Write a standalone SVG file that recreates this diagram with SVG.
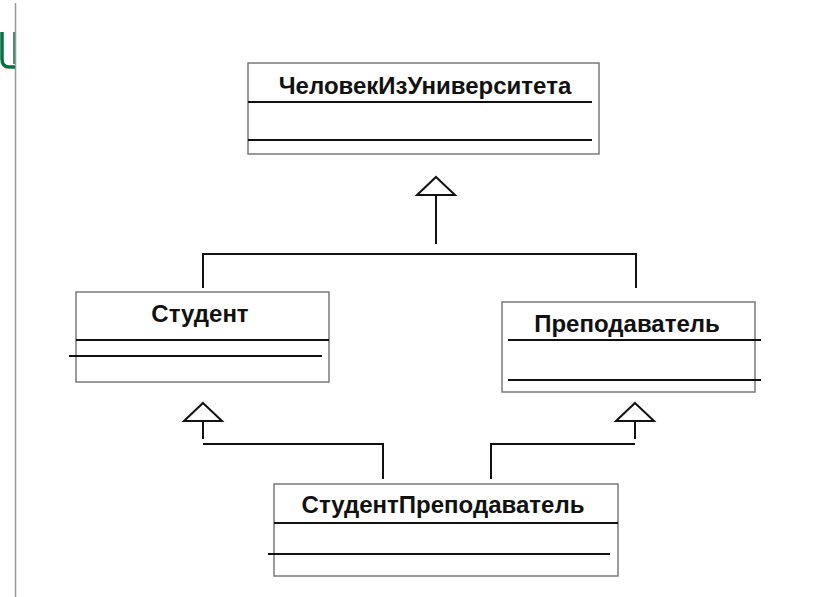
<svg xmlns="http://www.w3.org/2000/svg" width="814" height="597" viewBox="0 0 814 597">
<style>
.box{fill:#fff;stroke:#7a7a7a;stroke-width:1.5}
.sep{stroke:#111;stroke-width:2}
.lbl{font-family:"Liberation Sans",Arial,sans-serif;font-weight:bold;font-size:24px;fill:#111;text-anchor:middle}
.con{fill:none;stroke:#111;stroke-width:2}
.tri{fill:#fff;stroke:#111;stroke-width:2;stroke-linejoin:miter}
</style>
<rect width="814" height="597" fill="#fff"/>
<line x1="15.5" y1="3" x2="15.5" y2="597" stroke="#999" stroke-width="1.5"/>
<path d="M2,32 L2,59 Q2,67 9,67 L15,67" fill="none" stroke="#0b7040" stroke-width="3.5"/>
<path d="M14,32 L14,64" fill="none" stroke="#0b7040" stroke-width="1.5"/>
<g id="connectors">
<path class="con" d="M436,195 V244 M203,288 V254 H636 V288"/>
<polygon class="tri" points="436,177 455,195 417,195"/>
<path class="con" d="M203,421 V439 M203,444 H383 V479"/>
<polygon class="tri" points="203,403 222,421 184,421"/>
<path class="con" d="M635,421 V439 M635,444 H491 V479"/>
<polygon class="tri" points="635,403 654,421 616,421"/>
</g>
<g id="person">
<rect class="box" x="248" y="63" width="351" height="91"/>
<line class="sep" x1="248" y1="102" x2="592" y2="102"/>
<line class="sep" x1="248" y1="140" x2="592" y2="140"/>
<text class="lbl" x="425" y="94">ЧеловекИзУниверситета</text>
</g>
<g id="student">
<rect class="box" x="76" y="292" width="253" height="90"/>
<line class="sep" x1="76" y1="340" x2="329" y2="340"/>
<line class="sep" x1="69" y1="356" x2="322" y2="356"/>
<text class="lbl" x="200" y="322">Студент</text>
</g>
<g id="teacher">
<rect class="box" x="502" y="302" width="253" height="90"/>
<line class="sep" x1="508" y1="340" x2="761" y2="340"/>
<line class="sep" x1="508" y1="380" x2="761" y2="380"/>
<text class="lbl" x="627" y="332">Преподаватель</text>
</g>
<g id="studentteacher">
<rect class="box" x="274" y="484" width="344" height="92"/>
<line class="sep" x1="274" y1="523" x2="618" y2="523"/>
<line class="sep" x1="268" y1="554" x2="610" y2="554"/>
<text class="lbl" x="443" y="513">СтудентПреподаватель</text>
</g>
</svg>
